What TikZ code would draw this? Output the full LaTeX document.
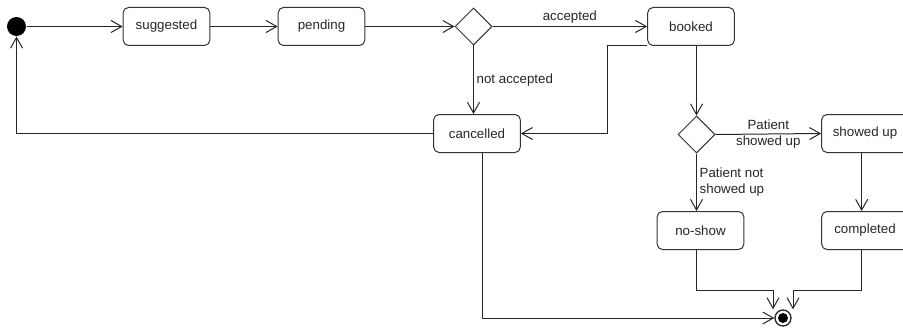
\documentclass[tikz,border=0pt]{standalone}
\usepackage{fontspec}
\setmainfont{Liberation Sans}
\usetikzlibrary{arrows.meta,shapes.geometric}

\tikzset{
  state/.style={draw=black!80, rounded corners=4pt, minimum width=65pt, minimum height=28.5pt, inner sep=0pt},
  choice/.style={draw=black!80, diamond, minimum width=27.75pt, minimum height=27.75pt, inner sep=0pt},
  arr/.style={draw=black!85, -{Straight Barb[length=8pt,width=9pt]}},
  lbl/.style={font=\fontsize{10}{12}\selectfont, text=black!85, inner sep=2pt}
}

\begin{document}
\begin{tikzpicture}[x=0.75pt,y=-0.75pt,line width=0.75pt,font=\fontsize{10}{12}\selectfont,text=black!85]
  \useasboundingbox (0,0) rectangle (903,328);

  \node[circle, fill=black, minimum size=14.25pt, inner sep=0pt] (init) at (16.5,26.5) {};
  \node[state] (suggested) at (166.5,26.5) {suggested};
  \node[state] (pending) at (321.5,26.5) {pending};
  \node[choice] (dia1) at (473.5,26.5) {};
  \node[state] (booked) at (691,26.5) {booked};
  \node[state] (cancelled) at (477,133.5) {cancelled};
  \node[choice] (dia2) at (696.5,134.5) {};
  \node[state] (showed) at (865,133.5) {showed up};
  \node[state] (noshow) at (700.5,230.5) {no-show};
  \node[state] (completed) at (865,230.5) {completed};
  \node[circle, draw=black!85, line width=1pt, minimum size=12pt, inner sep=0pt] (final) at (783,318) {};
  \node[circle, fill=black, minimum size=7.5pt, inner sep=0pt] (finaldot) at (final) {};

  \draw[arr] (init) -- (suggested);
  \draw[arr] (suggested) -- (pending);
  \draw[arr] (pending) -- (dia1);
  \draw[arr] (dia1) -- node[lbl, above] {accepted} (booked);
  \draw[arr] (dia1.south) -- node[lbl, right] {not accepted} (dia1.south |- cancelled.north);
  \draw[arr] (booked.south west) -- ++(-40,0) |- (cancelled.east);
  \draw[arr] (cancelled.west) -| (init.south);
  \draw[arr] (dia2.north |- booked.south) -- (dia2.north);
  \draw[arr] (dia2.east) -- node[lbl, align=center] {Patient\\showed up} (showed.west);
  \draw[arr] (dia2.south) -- node[lbl, right, align=left] {Patient not\\showed up} (dia2.south |- noshow.north);
  \draw[arr] ([xshift=-2.5pt]showed.south) -- ([xshift=-2.5pt]completed.north);
  \draw[arr] (dia2.south |- noshow.south) -- ++(0,40) -| ([xshift=-7.5pt]final.north);
  \draw[arr] ([xshift=-2.5pt]completed.south) -- ++(0,40) -| ([xshift=7.5pt]final.north);
  \draw[arr] ([xshift=3.75pt]cancelled.south) |- (final.west);
\end{tikzpicture}
\end{document}
